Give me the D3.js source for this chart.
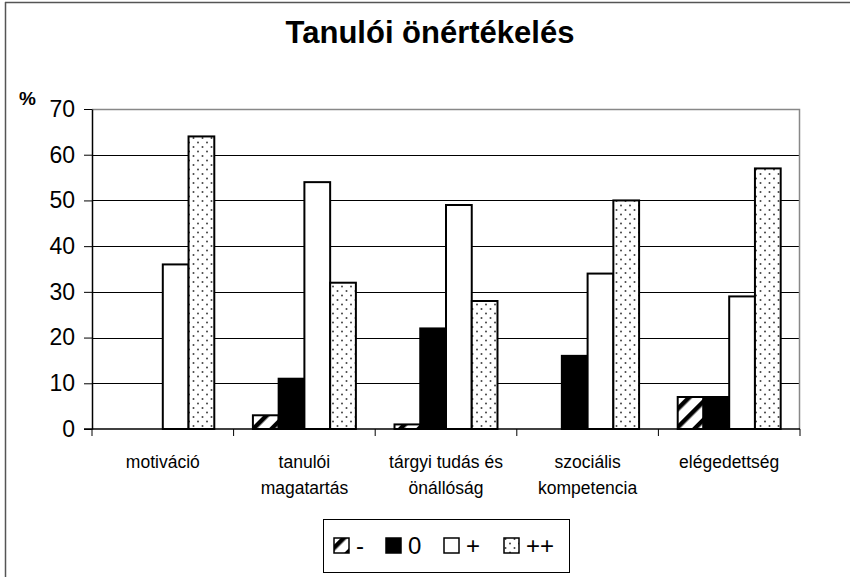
<!DOCTYPE html>
<html>
<head>
<meta charset="utf-8">
<script src="https://cdn.jsdelivr.net/npm/d3@7"></script>
<style>
  body { margin: 0; background: #fff; }
  text { font-family: "Liberation Sans", Arial, sans-serif; }
</style>
</head>
<body>
<svg id="canvas"></svg>
<script>
const categories = [["motiváció"], ["tanulói", "magatartás"], ["tárgyi tudás és", "önállóság"], ["szociális", "kompetencia"], ["elégedettség"]];
const seriesNames = ["-", "0", "+", "++"];
const minus = [0, 3, 1, 0, 7];
const zero = [0, 11, 22, 16, 7];
const plus = [36, 54, 49, 34, 29];
const plusplus = [64, 32, 28, 50, 57];
const yTicks = [0, 10, 20, 30, 40, 50, 60, 70];

const width = 850;
const height = 577;
const margin = { top: 109, right: 50, bottom: 148, left: 92 };

const svg = d3.select("#canvas")
  .attr("width", width)
  .attr("height", height);

// patterns
const defs = svg.append("defs");
const hatch = defs.append("pattern")
  .attr("id", "hatch")
  .attr("patternUnits", "userSpaceOnUse")
  .attr("width", 13).attr("height", 13)
  .attr("patternTransform", "rotate(45)");
hatch.append("rect").attr("width", 13).attr("height", 13).attr("fill", "#fff");
hatch.append("rect").attr("x", 0).attr("width", 4.5).attr("height", 13).attr("fill", "#000");

const dots = defs.append("pattern")
  .attr("id", "dots")
  .attr("patternUnits", "userSpaceOnUse")
  .attr("width", 9).attr("height", 9);
dots.append("rect").attr("width", 9).attr("height", 9).attr("fill", "#fff");
dots.append("circle").attr("cx", 2.5).attr("cy", 2).attr("r", 1).attr("fill", "#444");
dots.append("circle").attr("cx", 7).attr("cy", 6.5).attr("r", 1).attr("fill", "#444");

const fills = ["url(#hatch)", "#000", "#fff", "url(#dots)"];

// outer chart border
svg.append("line").attr("x1", 5).attr("x2", width).attr("y1", 2.5).attr("y2", 2.5)
  .attr("stroke", "#555").attr("stroke-width", 1.5);
svg.append("line").attr("x1", 5.5).attr("x2", 5.5).attr("y1", 2).attr("y2", height)
  .attr("stroke", "#555").attr("stroke-width", 1.5);

svg.append("text")
  .attr("x", 430).attr("y", 43)
  .attr("text-anchor", "middle")
  .attr("font-size", 31).attr("font-weight", "bold")
  .text("Tanulói önértékelés");

const chartWidth = width - margin.left - margin.right;
const chartHeight = height - margin.top - margin.bottom;
const chartArea = svg.append("g")
  .attr("transform", `translate(${margin.left},${margin.top})`);

const x = d3.scaleBand()
  .domain(d3.range(categories.length))
  .range([0, chartWidth]);

const x1 = d3.scaleBand()
  .domain(seriesNames)
  .range([0, x.bandwidth()])
  .paddingOuter(0.75)
  .paddingInner(0);

const y = d3.scaleLinear()
  .domain([0, 70])
  .range([chartHeight, 0]);

// gridlines
chartArea.selectAll(".grid")
  .data(yTicks.filter(t => t > 0 && t < 70))
  .enter().append("line")
  .attr("x1", 0).attr("x2", chartWidth)
  .attr("y1", d => Math.round(y(d)) + 0.5).attr("y2", d => Math.round(y(d)) + 0.5)
  .attr("stroke", "#000").attr("stroke-width", 1);

// plot border top/right
chartArea.append("path")
  .attr("d", `M0,0.5H${chartWidth - 0.5}V${chartHeight}`)
  .attr("fill", "none").attr("stroke", "#888").attr("stroke-width", 1.5);

const seriesData = [minus, zero, plus, plusplus];
seriesNames.forEach((s, si) => {
  chartArea.selectAll(".bar-" + si)
    .data(seriesData[si])
    .enter().append("rect")
    .attr("x", (d, i) => x(i) + x1(s))
    .attr("y", d => y(d))
    .attr("width", x1.bandwidth())
    .attr("height", d => chartHeight - y(d))
    .attr("fill", fills[si])
    .attr("stroke", "#000")
    .attr("stroke-width", d => d > 0 ? 2 : 0);
});

// y axis
const yAxis = chartArea.append("g")
  .call(d3.axisLeft(y).tickValues(yTicks).tickSize(8).tickSizeOuter(0).tickPadding(9));
yAxis.select(".domain").attr("stroke", "#000").attr("stroke-width", 1.5);
yAxis.selectAll("line").attr("stroke", "#000");
yAxis.selectAll("text").attr("font-size", 23).attr("fill", "#000")
  .attr("font-family", "Liberation Sans, Arial, sans-serif");

// x axis
const xAxis = chartArea.append("g")
  .attr("transform", `translate(0,${chartHeight})`);
xAxis.append("line").attr("x1", -8).attr("x2", chartWidth).attr("y1", 0).attr("y2", 0)
  .attr("stroke", "#000").attr("stroke-width", 1.5);
xAxis.selectAll(".tick")
  .data(d3.range(categories.length + 1))
  .enter().append("line")
  .attr("x1", d => d * x.bandwidth()).attr("x2", d => d * x.bandwidth())
  .attr("y1", 0).attr("y2", 7)
  .attr("stroke", "#000");
const labels = xAxis.selectAll(".lbl")
  .data(categories)
  .enter().append("text")
  .attr("text-anchor", "middle")
  .attr("font-size", 17.5)
  .attr("transform", (d, i) => `translate(${x(i) + x.bandwidth() / 2},39)`);
labels.selectAll("tspan")
  .data(d => d)
  .enter().append("tspan")
  .attr("x", 0)
  .attr("dy", (d, i) => i === 0 ? 0 : 26)
  .text(d => d);

svg.append("text")
  .attr("x", 19).attr("y", 105)
  .attr("font-size", 19).attr("font-weight", "bold")
  .text("%");

// legend
const legend = svg.append("g").attr("transform", "translate(323,519)");
legend.append("rect").attr("x", 0.5).attr("y", 0.5).attr("width", 246).attr("height", 53)
  .attr("fill", "#fff").attr("stroke", "#000");
const legendX = [10, 62, 120, 180];
seriesNames.forEach((s, i) => {
  legend.append("rect")
    .attr("x", legendX[i] + 1).attr("y", 19)
    .attr("width", 15).attr("height", 15)
    .attr("fill", fills[i]).attr("stroke", "#000").attr("stroke-width", 1.5);
  legend.append("text")
    .attr("x", legendX[i] + 23).attr("y", 35)
    .attr("font-size", 24)
    .text(s);
});
</script>
</body>
</html>
